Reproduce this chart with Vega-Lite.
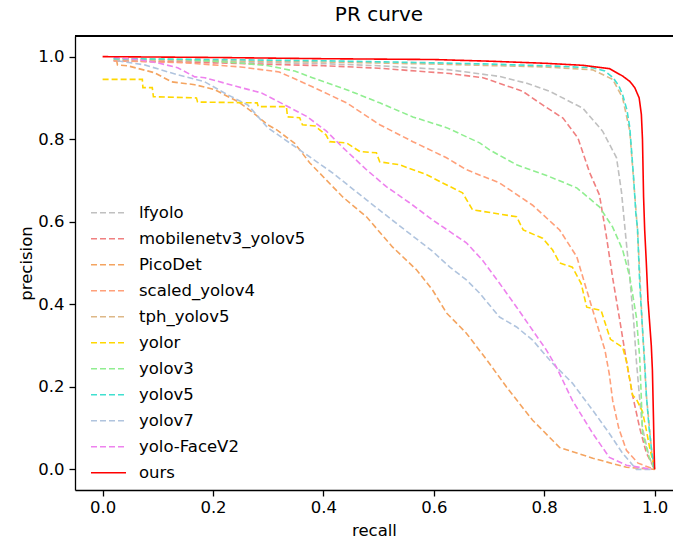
{
  "$schema": "https://vega.github.io/schema/vega-lite/v6.json",
  "width": 598,
  "height": 454,
  "autosize": {"type": "none"},
  "padding": {"left": 75, "top": 36, "right": 0, "bottom": 52},
  "background": "white",
  "config": {
    "view": {"stroke": null},
    "font": "DejaVu Sans",
    "axis": {"grid": false, "labelFont": "DejaVu Sans", "titleFont": "DejaVu Sans", "labelFontSize": 16.5, "titleFontSize": 16.5, "titleFontWeight": "normal", "labelColor": "black", "titleColor": "black", "domainColor": "black", "tickColor": "black", "tickSize": 6, "domainWidth": 1.3, "tickWidth": 1.3}
  },
  "title": {"text": "PR curve", "fontSize": 20, "fontWeight": "normal", "font": "DejaVu Sans", "color": "black", "offset": 10, "dx": 5},
  "data": {"values": [
    {"model":"lfyolo","recall":0.02,"precision":0.99},{"model":"lfyolo","recall":0.2,"precision":0.988},{"model":"lfyolo","recall":0.4,"precision":0.983},{"model":"lfyolo","recall":0.5,"precision":0.978},{"model":"lfyolo","recall":0.629,"precision":0.968},{"model":"lfyolo","recall":0.719,"precision":0.952},{"model":"lfyolo","recall":0.77,"precision":0.935},{"model":"lfyolo","recall":0.81,"precision":0.916},{"model":"lfyolo","recall":0.87,"precision":0.875},{"model":"lfyolo","recall":0.906,"precision":0.819},{"model":"lfyolo","recall":0.931,"precision":0.755},{"model":"lfyolo","recall":0.94,"precision":0.672},{"model":"lfyolo","recall":0.948,"precision":0.56},{"model":"lfyolo","recall":0.955,"precision":0.464},{"model":"lfyolo","recall":0.962,"precision":0.36},{"model":"lfyolo","recall":0.967,"precision":0.262},{"model":"lfyolo","recall":0.973,"precision":0.17},{"model":"lfyolo","recall":0.978,"precision":0.1},{"model":"lfyolo","recall":0.99,"precision":0.03},{"model":"lfyolo","recall":1.0,"precision":0.0},

    {"model":"mobilenetv3_yolov5","recall":0.02,"precision":0.99},{"model":"mobilenetv3_yolov5","recall":0.2,"precision":0.985},{"model":"mobilenetv3_yolov5","recall":0.4,"precision":0.978},{"model":"mobilenetv3_yolov5","recall":0.5,"precision":0.972},{"model":"mobilenetv3_yolov5","recall":0.629,"precision":0.959},{"model":"mobilenetv3_yolov5","recall":0.689,"precision":0.949},{"model":"mobilenetv3_yolov5","recall":0.761,"precision":0.916},{"model":"mobilenetv3_yolov5","recall":0.797,"precision":0.883},{"model":"mobilenetv3_yolov5","recall":0.834,"precision":0.851},{"model":"mobilenetv3_yolov5","recall":0.861,"precision":0.803},{"model":"mobilenetv3_yolov5","recall":0.882,"precision":0.72},{"model":"mobilenetv3_yolov5","recall":0.9,"precision":0.665},{"model":"mobilenetv3_yolov5","recall":0.912,"precision":0.57},{"model":"mobilenetv3_yolov5","recall":0.924,"precision":0.464},{"model":"mobilenetv3_yolov5","recall":0.937,"precision":0.36},{"model":"mobilenetv3_yolov5","recall":0.949,"precision":0.262},{"model":"mobilenetv3_yolov5","recall":0.96,"precision":0.18},{"model":"mobilenetv3_yolov5","recall":0.973,"precision":0.1},{"model":"mobilenetv3_yolov5","recall":0.985,"precision":0.04},{"model":"mobilenetv3_yolov5","recall":1.0,"precision":0.0},

    {"model":"PicoDet","recall":0.025,"precision":0.993},{"model":"PicoDet","recall":0.027,"precision":0.98},{"model":"PicoDet","recall":0.045,"precision":0.978},{"model":"PicoDet","recall":0.094,"precision":0.961},{"model":"PicoDet","recall":0.125,"precision":0.939},{"model":"PicoDet","recall":0.167,"precision":0.932},{"model":"PicoDet","recall":0.203,"precision":0.92},{"model":"PicoDet","recall":0.245,"precision":0.891},{"model":"PicoDet","recall":0.27,"precision":0.867},{"model":"PicoDet","recall":0.299,"precision":0.835},{"model":"PicoDet","recall":0.315,"precision":0.823},{"model":"PicoDet","recall":0.348,"precision":0.79},{"model":"PicoDet","recall":0.375,"precision":0.743},{"model":"PicoDet","recall":0.435,"precision":0.66},{"model":"PicoDet","recall":0.478,"precision":0.612},{"model":"PicoDet","recall":0.525,"precision":0.539},{"model":"PicoDet","recall":0.569,"precision":0.483},{"model":"PicoDet","recall":0.598,"precision":0.434},{"model":"PicoDet","recall":0.623,"precision":0.379},{"model":"PicoDet","recall":0.659,"precision":0.33},{"model":"PicoDet","recall":0.696,"precision":0.265},{"model":"PicoDet","recall":0.732,"precision":0.199},{"model":"PicoDet","recall":0.779,"precision":0.119},{"model":"PicoDet","recall":0.828,"precision":0.053},{"model":"PicoDet","recall":0.888,"precision":0.027},{"model":"PicoDet","recall":0.949,"precision":0.005},{"model":"PicoDet","recall":1.0,"precision":0.0},

    {"model":"scaled_yolov4","recall":0.02,"precision":0.99},{"model":"scaled_yolov4","recall":0.15,"precision":0.985},{"model":"scaled_yolov4","recall":0.25,"precision":0.975},{"model":"scaled_yolov4","recall":0.32,"precision":0.963},{"model":"scaled_yolov4","recall":0.38,"precision":0.927},{"model":"scaled_yolov4","recall":0.442,"precision":0.888},{"model":"scaled_yolov4","recall":0.502,"precision":0.835},{"model":"scaled_yolov4","recall":0.562,"precision":0.794},{"model":"scaled_yolov4","recall":0.623,"precision":0.755},{"model":"scaled_yolov4","recall":0.659,"precision":0.726},{"model":"scaled_yolov4","recall":0.719,"precision":0.694},{"model":"scaled_yolov4","recall":0.779,"precision":0.64},{"model":"scaled_yolov4","recall":0.828,"precision":0.58},{"model":"scaled_yolov4","recall":0.859,"precision":0.515},{"model":"scaled_yolov4","recall":0.877,"precision":0.434},{"model":"scaled_yolov4","recall":0.895,"precision":0.354},{"model":"scaled_yolov4","recall":0.91,"precision":0.289},{"model":"scaled_yolov4","recall":0.918,"precision":0.23},{"model":"scaled_yolov4","recall":0.924,"precision":0.167},{"model":"scaled_yolov4","recall":0.935,"precision":0.1},{"model":"scaled_yolov4","recall":0.949,"precision":0.046},{"model":"scaled_yolov4","recall":0.97,"precision":0.015},{"model":"scaled_yolov4","recall":1.0,"precision":0.0},

    {"model":"tph_yolov5","recall":0.02,"precision":0.993},{"model":"tph_yolov5","recall":0.2,"precision":0.99},{"model":"tph_yolov5","recall":0.4,"precision":0.987},{"model":"tph_yolov5","recall":0.6,"precision":0.982},{"model":"tph_yolov5","recall":0.8,"precision":0.975},{"model":"tph_yolov5","recall":0.888,"precision":0.968},{"model":"tph_yolov5","recall":0.924,"precision":0.945},{"model":"tph_yolov5","recall":0.942,"precision":0.9},{"model":"tph_yolov5","recall":0.955,"precision":0.82},{"model":"tph_yolov5","recall":0.962,"precision":0.7},{"model":"tph_yolov5","recall":0.969,"precision":0.58},{"model":"tph_yolov5","recall":0.978,"precision":0.34},{"model":"tph_yolov5","recall":0.985,"precision":0.18},{"model":"tph_yolov5","recall":0.995,"precision":0.04},{"model":"tph_yolov5","recall":1.0,"precision":0.0},

    {"model":"yolor","recall":0.0,"precision":0.945},{"model":"yolor","recall":0.072,"precision":0.945},{"model":"yolor","recall":0.073,"precision":0.925},{"model":"yolor","recall":0.09,"precision":0.925},{"model":"yolor","recall":0.092,"precision":0.903},{"model":"yolor","recall":0.17,"precision":0.9},{"model":"yolor","recall":0.172,"precision":0.89},{"model":"yolor","recall":0.28,"precision":0.888},{"model":"yolor","recall":0.282,"precision":0.879},{"model":"yolor","recall":0.333,"precision":0.879},{"model":"yolor","recall":0.335,"precision":0.854},{"model":"yolor","recall":0.357,"precision":0.852},{"model":"yolor","recall":0.362,"precision":0.835},{"model":"yolor","recall":0.385,"precision":0.832},{"model":"yolor","recall":0.405,"precision":0.81},{"model":"yolor","recall":0.411,"precision":0.794},{"model":"yolor","recall":0.442,"precision":0.791},{"model":"yolor","recall":0.466,"precision":0.77},{"model":"yolor","recall":0.496,"precision":0.767},{"model":"yolor","recall":0.502,"precision":0.745},{"model":"yolor","recall":0.538,"precision":0.738},{"model":"yolor","recall":0.587,"precision":0.714},{"model":"yolor","recall":0.616,"precision":0.694},{"model":"yolor","recall":0.652,"precision":0.67},{"model":"yolor","recall":0.67,"precision":0.629},{"model":"yolor","recall":0.75,"precision":0.612},{"model":"yolor","recall":0.762,"precision":0.58},{"model":"yolor","recall":0.797,"precision":0.56},{"model":"yolor","recall":0.815,"precision":0.532},{"model":"yolor","recall":0.828,"precision":0.5},{"model":"yolor","recall":0.851,"precision":0.49},{"model":"yolor","recall":0.867,"precision":0.45},{"model":"yolor","recall":0.877,"precision":0.393},{"model":"yolor","recall":0.903,"precision":0.385},{"model":"yolor","recall":0.92,"precision":0.315},{"model":"yolor","recall":0.942,"precision":0.296},{"model":"yolor","recall":0.949,"precision":0.262},{"model":"yolor","recall":0.96,"precision":0.18},{"model":"yolor","recall":0.967,"precision":0.17},{"model":"yolor","recall":0.978,"precision":0.14},{"model":"yolor","recall":0.985,"precision":0.095},{"model":"yolor","recall":0.991,"precision":0.053},{"model":"yolor","recall":1.0,"precision":0.0},

    {"model":"yolov3","recall":0.02,"precision":0.995},{"model":"yolov3","recall":0.15,"precision":0.993},{"model":"yolov3","recall":0.245,"precision":0.985},{"model":"yolov3","recall":0.3,"precision":0.978},{"model":"yolov3","recall":0.348,"precision":0.965},{"model":"yolov3","recall":0.38,"precision":0.949},{"model":"yolov3","recall":0.442,"precision":0.92},{"model":"yolov3","recall":0.502,"precision":0.888},{"model":"yolov3","recall":0.562,"precision":0.854},{"model":"yolov3","recall":0.623,"precision":0.828},{"model":"yolov3","recall":0.683,"precision":0.791},{"model":"yolov3","recall":0.701,"precision":0.774},{"model":"yolov3","recall":0.75,"precision":0.738},{"model":"yolov3","recall":0.81,"precision":0.709},{"model":"yolov3","recall":0.859,"precision":0.682},{"model":"yolov3","recall":0.9,"precision":0.636},{"model":"yolov3","recall":0.924,"precision":0.587},{"model":"yolov3","recall":0.942,"precision":0.532},{"model":"yolov3","recall":0.955,"precision":0.466},{"model":"yolov3","recall":0.967,"precision":0.369},{"model":"yolov3","recall":0.973,"precision":0.27},{"model":"yolov3","recall":0.976,"precision":0.17},{"model":"yolov3","recall":0.978,"precision":0.087},{"model":"yolov3","recall":0.99,"precision":0.03},{"model":"yolov3","recall":1.0,"precision":0.0},

    {"model":"yolov5","recall":0.02,"precision":0.995},{"model":"yolov5","recall":0.2,"precision":0.993},{"model":"yolov5","recall":0.4,"precision":0.99},{"model":"yolov5","recall":0.6,"precision":0.985},{"model":"yolov5","recall":0.7,"precision":0.982},{"model":"yolov5","recall":0.8,"precision":0.978},{"model":"yolov5","recall":0.888,"precision":0.973},{"model":"yolov5","recall":0.91,"precision":0.965},{"model":"yolov5","recall":0.924,"precision":0.95},{"model":"yolov5","recall":0.935,"precision":0.93},{"model":"yolov5","recall":0.942,"precision":0.908},{"model":"yolov5","recall":0.95,"precision":0.87},{"model":"yolov5","recall":0.955,"precision":0.828},{"model":"yolov5","recall":0.962,"precision":0.706},{"model":"yolov5","recall":0.966,"precision":0.62},{"model":"yolov5","recall":0.969,"precision":0.585},{"model":"yolov5","recall":0.973,"precision":0.45},{"model":"yolov5","recall":0.978,"precision":0.342},{"model":"yolov5","recall":0.982,"precision":0.26},{"model":"yolov5","recall":0.985,"precision":0.18},{"model":"yolov5","recall":0.99,"precision":0.1},{"model":"yolov5","recall":0.995,"precision":0.04},{"model":"yolov5","recall":1.0,"precision":0.0},

    {"model":"yolov7","recall":0.027,"precision":0.99},{"model":"yolov7","recall":0.076,"precision":0.98},{"model":"yolov7","recall":0.136,"precision":0.956},{"model":"yolov7","recall":0.185,"precision":0.939},{"model":"yolov7","recall":0.226,"precision":0.908},{"model":"yolov7","recall":0.263,"precision":0.883},{"model":"yolov7","recall":0.299,"precision":0.828},{"model":"yolov7","recall":0.357,"precision":0.774},{"model":"yolov7","recall":0.417,"precision":0.718},{"model":"yolov7","recall":0.478,"precision":0.653},{"model":"yolov7","recall":0.538,"precision":0.59},{"model":"yolov7","recall":0.598,"precision":0.528},{"model":"yolov7","recall":0.629,"precision":0.49},{"model":"yolov7","recall":0.659,"precision":0.459},{"model":"yolov7","recall":0.683,"precision":0.427},{"model":"yolov7","recall":0.719,"precision":0.369},{"model":"yolov7","recall":0.75,"precision":0.345},{"model":"yolov7","recall":0.779,"precision":0.313},{"model":"yolov7","recall":0.815,"precision":0.257},{"model":"yolov7","recall":0.851,"precision":0.209},{"model":"yolov7","recall":0.888,"precision":0.143},{"model":"yolov7","recall":0.918,"precision":0.087},{"model":"yolov7","recall":0.942,"precision":0.039},{"model":"yolov7","recall":0.967,"precision":0.0},{"model":"yolov7","recall":0.995,"precision":0.0},

    {"model":"yolo-FaceV2","recall":0.02,"precision":0.998},{"model":"yolo-FaceV2","recall":0.063,"precision":0.993},{"model":"yolo-FaceV2","recall":0.1,"precision":0.985},{"model":"yolo-FaceV2","recall":0.136,"precision":0.973},{"model":"yolo-FaceV2","recall":0.167,"precision":0.951},{"model":"yolo-FaceV2","recall":0.185,"precision":0.949},{"model":"yolo-FaceV2","recall":0.245,"precision":0.927},{"model":"yolo-FaceV2","recall":0.288,"precision":0.912},{"model":"yolo-FaceV2","recall":0.33,"precision":0.883},{"model":"yolo-FaceV2","recall":0.37,"precision":0.855},{"model":"yolo-FaceV2","recall":0.405,"precision":0.82},{"model":"yolo-FaceV2","recall":0.435,"precision":0.78},{"model":"yolo-FaceV2","recall":0.478,"precision":0.726},{"model":"yolo-FaceV2","recall":0.514,"precision":0.685},{"model":"yolo-FaceV2","recall":0.556,"precision":0.646},{"model":"yolo-FaceV2","recall":0.598,"precision":0.604},{"model":"yolo-FaceV2","recall":0.659,"precision":0.549},{"model":"yolo-FaceV2","recall":0.688,"precision":0.507},{"model":"yolo-FaceV2","recall":0.719,"precision":0.451},{"model":"yolo-FaceV2","recall":0.75,"precision":0.393},{"model":"yolo-FaceV2","recall":0.779,"precision":0.337},{"model":"yolo-FaceV2","recall":0.804,"precision":0.289},{"model":"yolo-FaceV2","recall":0.822,"precision":0.248},{"model":"yolo-FaceV2","recall":0.851,"precision":0.167},{"model":"yolo-FaceV2","recall":0.888,"precision":0.087},{"model":"yolo-FaceV2","recall":0.918,"precision":0.029},{"model":"yolo-FaceV2","recall":0.949,"precision":0.01},{"model":"yolo-FaceV2","recall":0.995,"precision":0.0},

    {"model":"ours","recall":0.0,"precision":1.0},{"model":"ours","recall":0.2,"precision":0.998},{"model":"ours","recall":0.4,"precision":0.995},{"model":"ours","recall":0.6,"precision":0.993},{"model":"ours","recall":0.7,"precision":0.989},{"model":"ours","recall":0.8,"precision":0.984},{"model":"ours","recall":0.87,"precision":0.979},{"model":"ours","recall":0.918,"precision":0.971},{"model":"ours","recall":0.942,"precision":0.953},{"model":"ours","recall":0.955,"precision":0.94},{"model":"ours","recall":0.964,"precision":0.925},{"model":"ours","recall":0.972,"precision":0.9},{"model":"ours","recall":0.976,"precision":0.86},{"model":"ours","recall":0.978,"precision":0.8},{"model":"ours","recall":0.98,"precision":0.66},{"model":"ours","recall":0.982,"precision":0.58},{"model":"ours","recall":0.985,"precision":0.5},{"model":"ours","recall":0.988,"precision":0.41},{"model":"ours","recall":0.994,"precision":0.3},{"model":"ours","recall":0.996,"precision":0.24},{"model":"ours","recall":0.998,"precision":0.12},{"model":"ours","recall":0.999,"precision":0.05},{"model":"ours","recall":1.0,"precision":0.0}
  ]},
  "layer": [
    {
      "mark": {"type": "rule", "color": "black", "strokeWidth": 1.3},
      "encoding": {"y": {"datum": 1.05, "type": "quantitative"}}
    },
    {
      "mark": {"type": "line", "clip": true},
      "encoding": {
        "x": {"field": "recall", "type": "quantitative", "scale": {"domain": [-0.05, 1.0333], "nice": false, "zero": false}, "axis": {"title": "recall", "values": [0, 0.2, 0.4, 0.6, 0.8, 1.0], "format": ".1f", "labelPadding": 3, "titlePadding": 7}},
        "y": {"field": "precision", "type": "quantitative", "scale": {"domain": [-0.05, 1.05], "nice": false, "zero": false}, "axis": {"title": "precision", "values": [0, 0.2, 0.4, 0.6, 0.8, 1.0], "format": ".1f", "labelPadding": 5, "titlePadding": 3}},
        "order": {"value": null},
        "color": {"field": "model", "type": "nominal", "title": null,
          "scale": {"domain": ["lfyolo","mobilenetv3_yolov5","PicoDet","scaled_yolov4","tph_yolov5","yolor","yolov3","yolov5","yolov7","yolo-FaceV2","ours"],
                    "range": ["#c0c0c0","#f08080","#f4a460","#ffa07a","#deb887","#ffd700","#90ee90","#40e0d0","#b0c4de","#ee82ee","#ff0000"]},
          "legend": {"orient": "none", "legendX": 15, "legendY": 164.2, "symbolType": "stroke", "symbolSize": 1225, "symbolStrokeWidth": 1.8, "labelFontSize": 16.5, "labelFont": "DejaVu Sans", "labelColor": "black", "labelOffset": 12, "labelLimit": 400, "rowPadding": 0, "clipHeight": 25.1, "padding": 0}},
        "strokeDash": {"field": "model", "type": "nominal", "title": null,
          "scale": {"domain": ["lfyolo","mobilenetv3_yolov5","PicoDet","scaled_yolov4","tph_yolov5","yolor","yolov3","yolov5","yolov7","yolo-FaceV2","ours"],
                    "range": [[6,3],[6,3],[6,3],[6,3],[6,3],[6,3],[6,3],[6,3],[6,3],[6,3],[1,0]]},
          "legend": {"orient": "none", "legendX": 15, "legendY": 164.2, "symbolType": "stroke", "symbolSize": 1225, "symbolStrokeWidth": 1.8, "labelFontSize": 16.5, "labelFont": "DejaVu Sans", "labelColor": "black", "labelOffset": 12, "labelLimit": 400, "rowPadding": 0, "clipHeight": 25.1, "padding": 0}},
        "strokeWidth": {"field": "model", "type": "nominal", "legend": null,
          "scale": {"domain": ["lfyolo","mobilenetv3_yolov5","PicoDet","scaled_yolov4","tph_yolov5","yolor","yolov3","yolov5","yolov7","yolo-FaceV2","ours"],
                    "range": [1.6,1.6,1.6,1.6,1.6,1.9,1.6,1.6,1.6,1.6,2]}}
      }
    }
  ]
}
